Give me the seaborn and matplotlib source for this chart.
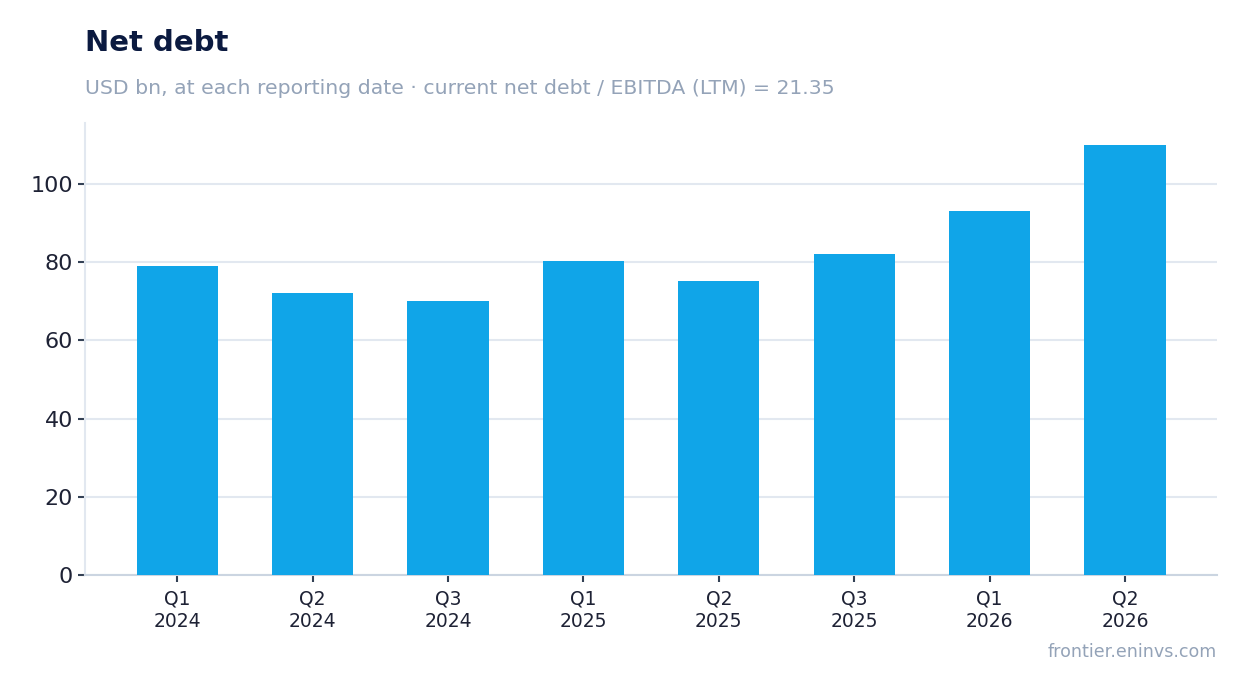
import matplotlib
matplotlib.use("Agg")
import matplotlib.pyplot as plt
import seaborn as sns
import pandas as pd

# -----------------------------
# Data
# -----------------------------
quarters = ["Q1\n2024", "Q2\n2024", "Q3\n2024", "Q1\n2025", "Q2\n2025",
            "Q3\n2025", "Q1\n2026", "Q2\n2026"]
net_debt = [79.0, 72.1, 70.1, 80.3, 75.2, 82.1, 93.1, 110.0]

title = "Net debt"
subtitle = "USD bn, at each reporting date · current net debt / EBITDA (LTM) = 21.35"
source = "frontier.eninvs.com"

BAR_COLOR = "#10A5E8"
TEXT_DARK = "#0B1A40"
MUTED = "#94A3B8"
GRID = "#E2E8F0"

df = pd.DataFrame({"quarter": quarters, "net_debt": net_debt})

sns.set_theme(style="white")
plt.rcParams["font.family"] = ["DejaVu Sans"]

fig = plt.figure(figsize=(12.47, 6.93), dpi=100)
ax = fig.add_axes([0.0682, 0.1703, 0.9078, 0.6522])

sns.barplot(data=df, x="quarter", y="net_debt", color=BAR_COLOR,
            saturation=1, width=0.6, linewidth=0, edgecolor="none",
            ax=ax, zorder=3)

ax.set_xlim(-0.68, len(quarters) - 1 + 0.68)
ax.set_ylim(0, 115.6)
ax.set_yticks([0, 20, 40, 60, 80, 100])
ax.yaxis.grid(True, color=GRID, linewidth=1.5, zorder=0)
ax.set_axisbelow(True)
ax.set_xlabel("")
ax.set_ylabel("")

for side in ["top", "right"]:
    ax.spines[side].set_visible(False)
ax.spines["left"].set_color(GRID)
ax.spines["left"].set_linewidth(1.5)
ax.spines["bottom"].set_color("#CBD5E1")
ax.spines["bottom"].set_linewidth(1.5)

ax.tick_params(axis="y", labelsize=16, labelcolor="#1E2235", color="#334155",
               length=5, width=1.5, left=True)
ax.tick_params(axis="x", labelsize=13.5, labelcolor="#1E2235", color="#334155",
               length=5, width=1.5, bottom=True, pad=5.5)

fig.text(85 / 1247, 1 - 29 / 693, title, fontsize=21, fontweight="bold",
         color=TEXT_DARK, ha="left", va="top")
fig.text(85 / 1247, 1 - 79 / 693, subtitle, fontsize=14.7, color=MUTED,
         ha="left", va="top")
fig.text(1217 / 1247, 1 - 652 / 693, source, fontsize=12.6, color=MUTED,
         ha="right", va="center")

fig.savefig("out.png", dpi=100)
